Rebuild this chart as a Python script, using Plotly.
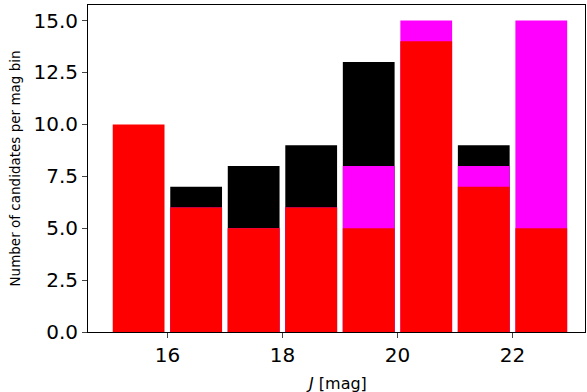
import plotly.graph_objects as go

bin_centers = [15.5, 16.5, 17.5, 18.5, 19.5, 20.5, 21.5, 22.5]
black_counts = [None, 7, 8, 9, 13, None, 9, None]
magenta_counts = [None, 6, 5, 6, 8, 15, 8, 15]
red_counts = [10, 6, 5, 6, 5, 14, 7, 5]
x_ticks = [16, 18, 20, 22]
y_ticks = [0, 2.5, 5, 7.5, 10, 12.5, 15]
y_tick_labels = ["0.0", "2.5", "5.0", "7.5", "10.0", "12.5", "15.0"]

fig = go.Figure()
for vals, col in [(black_counts, "#000000"), (magenta_counts, "#ff00ff"), (red_counts, "#ff0000")]:
    fig.add_trace(go.Bar(x=bin_centers, y=vals, width=0.9, marker=dict(color=col, line=dict(width=0)), showlegend=False))

fig.update_layout(
    width=587, height=392, barmode="overlay",
    margin=dict(l=88, r=2, t=5, b=60),
    plot_bgcolor="white", paper_bgcolor="white",
    font=dict(family="DejaVu Sans", color="#000000"),
)
fig.update_xaxes(range=[14.62, 23.26], tickvals=x_ticks, ticks="outside", ticklen=5, tickwidth=1,
                 tickfont=dict(size=20), showline=True, linecolor="black", linewidth=1, mirror=True,
                 showgrid=False, zeroline=False)
fig.update_yaxes(range=[0, 15.75], tickvals=y_ticks, ticktext=y_tick_labels, ticks="outside", ticklen=5,
                 tickwidth=1, tickfont=dict(size=20), showline=True, linecolor="black", linewidth=1,
                 mirror=True, showgrid=False, zeroline=False)
fig.add_annotation(text="<i>J</i> [mag]", xref="paper", yref="paper", x=0.5, y=0, yshift=-40,
                   xanchor="center", yanchor="top", showarrow=False, font=dict(size=16))
fig.add_annotation(text="Number of candidates per mag bin", xref="paper", yref="paper", x=0, y=0.5,
                   xshift=-84, xanchor="left", yanchor="middle", textangle=-90, showarrow=False,
                   font=dict(size=13.5))
fig.write_html("out.html")
